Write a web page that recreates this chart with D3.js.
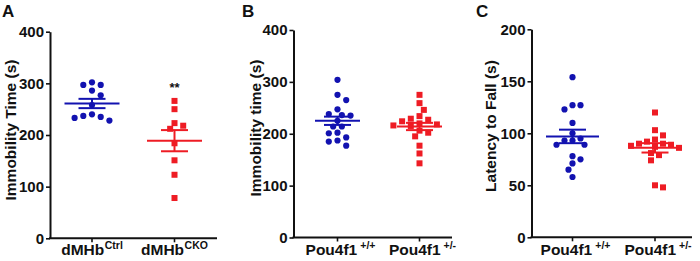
<!DOCTYPE html>
<html>
<head>
<meta charset="utf-8">
<script src="https://cdn.jsdelivr.net/npm/d3@7"></script>
<style>
  body { margin: 0; background: #fff; }
  svg { display: block; }
  text { font-family: 'Liberation Sans', Arial, Helvetica, sans-serif; font-weight: bold; fill: #111; }
</style>
</head>
<body>
<svg id="chart" width="700" height="261"></svg>
<script>
'use strict';

// ---- values ----
// panel A: forced swim, dMHb ctrl vs cko
const aCtrl = [297, 297, 302, 277, 286, 258, 240, 235, 228, 233, 237];
const aCko = [266, 250, 223, 212, 218, 184, 151, 123, 78];
const aMean = [261, 189];
const aSem = [9, 20.5];
// panel B: forced swim, Pou4f1
const bWt = [304, 275, 265, 247, 238, 236, 235, 225, 214, 214, 201, 202, 193, 187, 185, 177];
const bHet = [275, 259, 246, 234, 229, 224, 227, 218, 216, 220, 215, 206, 202, 195, 177, 162, 143];
const bMean = [225, 214];
const bSem = [8, 7];
// panel C: rotarod, Pou4f1
const cWt = [154, 127, 123, 127, 110, 100, 95, 93, 89, 89, 93, 75, 78, 71, 65, 58];
const cHet = [120, 103, 98, 94, 90, 89, 87, 86, 88, 90, 92, 81, 79, 74, 48, 50];
const cMean = [97, 86];
const cSem = [6.5, 4.5];

const dmhbBase = ['dMHb', 'dMHb'];
const dmhbSup = ['Ctrl', 'CKO'];
const pouBase = ['Pou4f1', 'Pou4f1'];
const pouSup = ['+/+', '+/-'];

const yTicks400 = [0, 100, 200, 300, 400];
const yTicks200 = [0, 50, 100, 150, 200];

const BLUE = '#1212b0';
const RED = '#ee1c24';

const svg = d3.select('#chart');

// simple beeswarm: biggest value first, take the nearest free slot
function swarm(vals, y, half, minDist) {
  let order = vals.map((v, i) => i).sort((a, b) => vals[b] - vals[a]);
  let placed = [];
  let out = new Array(vals.length);
  let flip = 1;
  order.forEach(i => {
    let py = y(vals[i]);
    for (let k = 0; k < 20; k++) {
      let cands = k === 0 ? [0] : [flip * k * half, -flip * k * half];
      let ok = cands.find(dx => placed.every(p => Math.hypot(p.dx - dx, p.py - py) >= minDist));
      if (ok !== undefined) {
        if (ok !== 0) flip = -Math.sign(ok);
        placed.push({dx: ok, py: py});
        out[i] = ok;
        break;
      }
    }
  });
  return out;
}

function panel(cfg) {
  const g = svg.append('g');
  const y = d3.scaleLinear().domain([0, cfg.ymax]).range([cfg.yBot, cfg.yTop]);
  const x = d3.scalePoint().domain([0, 1]).range(cfg.cats);

  // axes
  const ya = g.append('g')
    .attr('transform', `translate(${cfg.x0},0)`)
    .call(d3.axisLeft(y).tickValues(cfg.ticks).tickSize(4).tickSizeOuter(0).tickPadding(2));
  ya.select('.domain').attr('stroke', '#111').attr('stroke-width', 2);
  ya.selectAll('.tick line').attr('stroke', '#111').attr('stroke-width', 1.6);
  ya.selectAll('.tick text').style('font-size', '15px').attr('fill', '#111');

  g.append('line')
    .attr('x1', cfg.x0 - 1).attr('x2', cfg.x1)
    .attr('y1', cfg.yBot).attr('y2', cfg.yBot)
    .attr('stroke', '#111').attr('stroke-width', 2);
  g.selectAll('.xt').data([0, 1]).enter().append('line')
    .attr('x1', d => x(d)).attr('x2', d => x(d))
    .attr('y1', cfg.yBot).attr('y2', cfg.yBot + 4)
    .attr('stroke', '#111').attr('stroke-width', 1.6);

  const xl = g.selectAll('.xl').data([0, 1]).enter().append('text')
    .attr('x', d => x(d) + cfg.labelShift).attr('y', 255)
    .attr('text-anchor', 'middle').style('font-size', '15.5px');
  xl.append('tspan').text(d => cfg.base[d]);
  xl.append('tspan').attr('dy', -6).style('font-size', '10.5px')
    .attr('dx', cfg.supGap).text(d => cfg.sup[d]);

  // y label + panel letter
  g.append('text')
    .attr('transform', `translate(${cfg.tx},${cfg.ty}) rotate(-90)`)
    .attr('text-anchor', 'middle').attr('dominant-baseline', 'central')
    .style('font-size', '15.5px').text(cfg.title);
  g.append('text').attr('x', cfg.lx).attr('y', 17)
    .style('font-size', '17px').text(cfg.letter);

  // points
  cfg.series.forEach((vals, si) => {
    const offs = swarm(vals, y, cfg.half, cfg.minDist);
    const col = si === 0 ? BLUE : RED;
    const cx = x(si);
    if (si === 0) {
      g.selectAll('.p' + si).data(vals).enter().append('circle')
        .attr('cx', (d, i) => cx + offs[i]).attr('cy', d => y(d))
        .attr('r', 3.1).attr('fill', col);
    } else {
      g.selectAll('.p' + si).data(vals).enter().append('rect')
        .attr('x', (d, i) => cx + offs[i] - 3).attr('y', d => y(d) - 3)
        .attr('width', 6).attr('height', 6).attr('fill', col);
    }
    // mean and sem
    const m = cfg.mean[si], s = cfg.sem[si];
    g.append('line').attr('x1', cx - cfg.meanHalf).attr('x2', cx + cfg.meanHalf)
      .attr('y1', y(m)).attr('y2', y(m)).attr('stroke', col).attr('stroke-width', 2);
    g.append('line').attr('x1', cx).attr('x2', cx)
      .attr('y1', y(m - s)).attr('y2', y(m + s)).attr('stroke', col).attr('stroke-width', 2);
    [m - s, m + s].forEach(v => {
      g.append('line').attr('x1', cx - 13.5).attr('x2', cx + 13.5)
        .attr('y1', y(v)).attr('y2', y(v)).attr('stroke', col).attr('stroke-width', 2);
    });
  });

  if (cfg.star) {
    g.append('text').attr('x', x(1)).attr('y', y(cfg.star) + 6)
      .attr('text-anchor', 'middle').style('font-size', '13px').attr('fill', '#222').text('**');
  }
}

panel({
  letter: 'A', lx: 2, title: 'Immobility Time (s)', tx: 10, ty: 130,
  ymax: 400, ticks: yTicks400, yTop: 31.7, yBot: 238.3,
  x0: 50, x1: 217, cats: [92, 174.5],
  base: dmhbBase, sup: dmhbSup, supGap: 0.5, labelShift: 0,
  series: [aCtrl, aCko], mean: aMean, sem: aSem,
  half: 4.35, minDist: 7, meanHalf: 27.5, star: 295
});
panel({
  letter: 'B', lx: 242, title: 'Immobility time (s)', tx: 255, ty: 128,
  ymax: 400, ticks: yTicks400, yTop: 30, yBot: 237.5,
  x0: 293.5, x1: 452, cats: [337.5, 419.5],
  base: pouBase, sup: pouSup, supGap: 3, labelShift: 3,
  series: [bWt, bHet], mean: bMean, sem: bSem,
  half: 4.35, minDist: 7, meanHalf: 22.5
});
panel({
  letter: 'C', lx: 476, title: 'Latency to Fall (s)', tx: 490, ty: 126,
  ymax: 200, ticks: yTicks200, yTop: 29.3, yBot: 237.3,
  x0: 531.5, x1: 692, cats: [572.5, 655],
  base: pouBase, sup: pouSup, supGap: 3, labelShift: 3,
  series: [cWt, cHet], mean: cMean, sem: cSem,
  half: 4, minDist: 7, meanHalf: 26.5
});
</script>
</body>
</html>
